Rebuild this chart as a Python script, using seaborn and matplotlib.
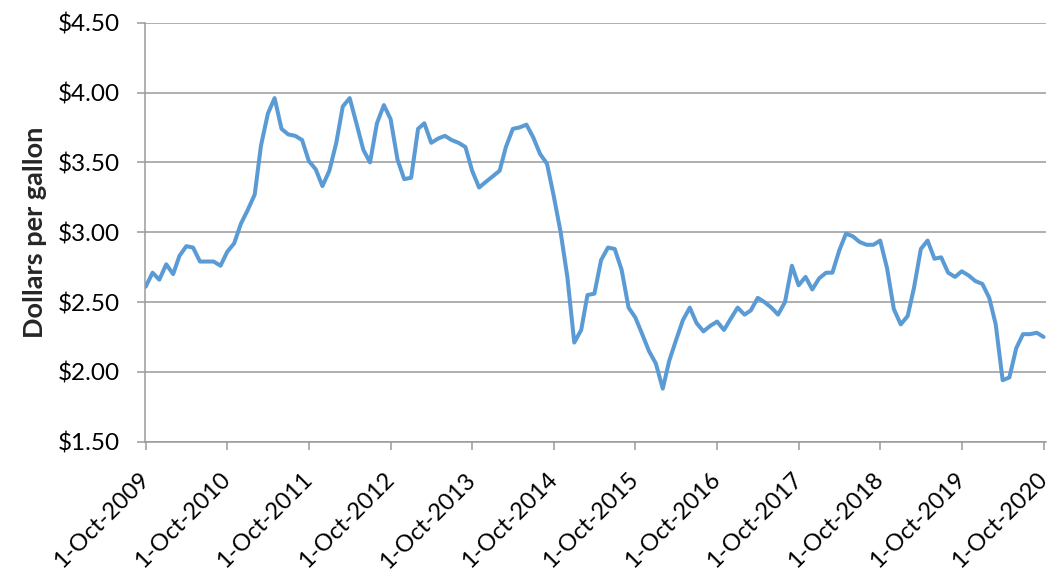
import matplotlib
matplotlib.use('Agg')
import matplotlib.pyplot as plt
import seaborn as sns
import pandas as pd

# monthly average price, Oct 2009 .. Oct 2020
months = pd.date_range('2009-10-01', '2020-10-01', freq='MS')
price = [
    2.61, 2.71, 2.66, 2.77, 2.70, 2.83, 2.90, 2.89, 2.79, 2.79, 2.79, 2.76,
    2.86, 2.92, 3.06, 3.16, 3.27, 3.62, 3.85, 3.96, 3.74, 3.70, 3.69, 3.66,
    3.51, 3.45, 3.33, 3.44, 3.64, 3.90, 3.96, 3.78, 3.59, 3.50, 3.78, 3.91,
    3.81, 3.52, 3.38, 3.39, 3.74, 3.78, 3.64, 3.67, 3.69, 3.66, 3.64, 3.61,
    3.44, 3.32, 3.36, 3.40, 3.44, 3.61, 3.74, 3.75, 3.77, 3.68, 3.56, 3.49,
    3.26, 3.00, 2.68, 2.21, 2.30, 2.55, 2.56, 2.80, 2.89, 2.88, 2.73, 2.46,
    2.39, 2.27, 2.15, 2.06, 1.88, 2.08, 2.23, 2.37, 2.46, 2.35, 2.29, 2.33,
    2.36, 2.30, 2.38, 2.46, 2.41, 2.44, 2.53, 2.50, 2.46, 2.41, 2.50, 2.76,
    2.62, 2.68, 2.59, 2.67, 2.71, 2.71, 2.87, 2.99, 2.97, 2.93, 2.91, 2.91,
    2.94, 2.74, 2.45, 2.34, 2.40, 2.60, 2.88, 2.94, 2.81, 2.82, 2.71, 2.68,
    2.72, 2.69, 2.65, 2.63, 2.53, 2.34, 1.94, 1.96, 2.17, 2.27, 2.27, 2.28,
    2.25,
]

tick_dates = pd.date_range('2009-10-01', periods=12, freq='12MS')
tick_labels = [f'1-Oct-{y}' for y in range(2009, 2021)]
y_ticks = [1.5, 2.0, 2.5, 3.0, 3.5, 4.0, 4.5]
y_labels = ['$1.50', '$2.00', '$2.50', '$3.00', '$3.50', '$4.00', '$4.50']

df = pd.DataFrame({'Month': months, 'Price': price})

sns.set_style('white')
plt.rcParams['font.family'] = ['Lato', 'DejaVu Sans']

grid_col = '#9A9A9A'
fig = plt.figure(figsize=(10.52, 5.80), dpi=100)
ax = fig.add_axes([145 / 1052, 1 - 441.7 / 580, (1046 - 145) / 1052, (441.7 - 22.7) / 580])

sns.lineplot(data=df, x='Month', y='Price', ax=ax, color='#5B9BD5', linewidth=2.9)

ax.set_ylim(1.5, 4.5)
ax.set_xlim(pd.Timestamp('2009-09-28'), pd.Timestamp('2020-10-12'))
ax.set_yticks(y_ticks)
ax.set_yticklabels(y_labels, fontsize=17.5)
ax.set_xticks(tick_dates)
# va='center' pulls the rotated labels slightly left so 2020 stays inside
ax.set_xticklabels(tick_labels, fontsize=17, rotation=45, ha='right', va='center',
                   rotation_mode='anchor')

ax.yaxis.grid(True, color=grid_col, linewidth=1.1)
ax.xaxis.grid(False)
for s in ['top', 'right']:
    ax.spines[s].set_visible(False)
for s in ['left', 'bottom']:
    ax.spines[s].set_color(grid_col)
    ax.spines[s].set_linewidth(1.1)
ax.tick_params(axis='both', direction='out', length=6, width=1.1, color=grid_col,
               left=True, bottom=True, labelcolor='black')
ax.tick_params(axis='y', pad=12)
ax.tick_params(axis='x', pad=19)

ax.set_xlabel('')
ax.set_ylabel('Dollars per gallon', fontsize=19.5, fontweight='bold', labelpad=8)

fig.savefig('out.png', dpi=100)
